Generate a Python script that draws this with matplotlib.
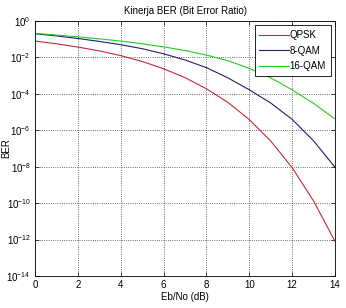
import numpy as np
import matplotlib
matplotlib.use('Agg')
import matplotlib.pyplot as plt

# Eb/No points (dB) and BER (log10 values)
ebno_db = [0, 1, 2, 3, 4, 5, 6, 7, 8, 9, 10, 11, 12, 13, 14]
qpsk_log = [-1.10, -1.25, -1.43, -1.64, -1.90, -2.22, -2.62, -3.11, -3.72,
            -4.47, -5.41, -6.59, -8.05, -9.88, -12.10]
qam8_log = [-0.70, -0.82, -0.96, -1.12, -1.30, -1.52, -1.80, -2.14, -2.56,
            -3.12, -3.78, -4.50, -5.40, -6.58, -8.03]
qam16_log = [-0.68, -0.77, -0.87, -0.98, -1.10, -1.25, -1.42, -1.62, -1.87,
             -2.18, -2.60, -3.12, -3.78, -4.52, -5.38]
labels = ['QPSK', '8-QAM', '16-QAM']
colors = ['#c8283a', '#20206e', '#22cc22']

plt.rcParams['font.family'] = ['Liberation Sans', 'DejaVu Sans']
plt.rcParams['font.size'] = 7
plt.rcParams['mathtext.default'] = 'regular'

fig = plt.figure(figsize=(3.46, 3.08), dpi=100)
ax = fig.add_axes([35 / 346, 1 - 276 / 308, 300 / 346, 255 / 308])

for vals, lab, col in zip([qpsk_log, qam8_log, qam16_log], labels, colors):
    ax.semilogy(ebno_db, 10.0 ** np.array(vals), color=col, lw=0.8, label=lab)

ax.set_xlim(0, 14)
ax.set_ylim(1e-14, 1e0)
ax.set_xticks(range(0, 15, 2))
yt = [10.0 ** (-k) for k in range(0, 15, 2)]
ax.set_yticks(yt)
ax.set_yticklabels(['$10^{%d}$' % (-k) if k else '$10^{0}$' for k in range(0, 15, 2)])
ax.minorticks_off()
ax.tick_params(direction='in', length=3, width=0.5, top=True, right=True,
               labelsize=7, pad=3)
ax.grid(True, which='major', ls=':', color='#404040', lw=0.6)
for s in ax.spines.values():
    s.set_linewidth(0.6)

ax.set_title('Kinerja BER (Bit Error Ratio)', fontsize=7, pad=5)
ax.set_xlabel('Eb/No (dB)', fontsize=7, labelpad=1)
ax.set_ylabel('BER', fontsize=7)
ax.yaxis.set_label_coords(-0.078, 0.5)

leg = ax.legend(loc='upper right', fontsize=7, fancybox=False, framealpha=1,
                edgecolor='k', handlelength=3.0, borderaxespad=0.45,
                handletextpad=0.1, labelspacing=0.55, borderpad=0.5)
leg.get_frame().set_linewidth(0.6)

fig.savefig('out.png', dpi=100)
